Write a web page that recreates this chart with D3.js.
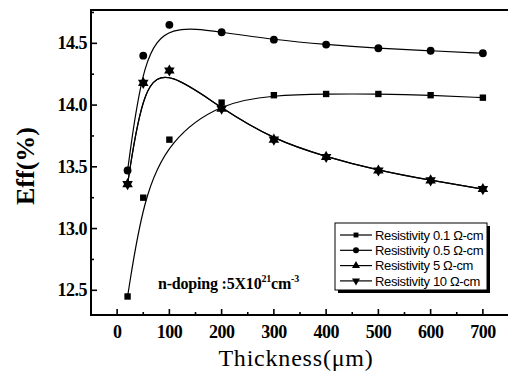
<!DOCTYPE html>
<html>
<head>
<meta charset="utf-8">
<script src="https://cdn.jsdelivr.net/npm/d3@7"></script>
<style>
    body { margin: 0; background: #fff; }
    svg { display: block; }
</style>
</head>
<body>
<div id="chart"></div>
<script>
// thickness values (um) on the x axis
var thickness = [20, 50, 100, 200, 300, 400, 500, 600, 700];

// efficiency (%), one list per resistivity
var eff01 = [12.45, 13.25, 13.72, 14.02, 14.08, 14.09, 14.09, 14.08, 14.06];
var eff05 = [13.47, 14.40, 14.65, 14.59, 14.53, 14.49, 14.46, 14.44, 14.42];
var eff5  = [13.36, 14.18, 14.28, 13.97, 13.72, 13.58, 13.47, 13.39, 13.32];
var eff10 = [13.36, 14.18, 14.28, 13.97, 13.72, 13.58, 13.47, 13.39, 13.32];

var seriesNames = ["Resistivity 0.1 \u03A9-cm", "Resistivity 0.5 \u03A9-cm", "Resistivity 5 \u03A9-cm", "Resistivity 10 \u03A9-cm"];
var seriesSymbols = ["square", "circle", "up", "down"];

var xTicks = [0, 100, 200, 300, 400, 500, 600, 700];
var yTicks = [12.5, 13.0, 13.5, 14.0, 14.5];

var width = 508, height = 374;
var margin = {top: 10, left: 91, bottom: 59};

var svg = d3.select("#chart").append("svg")
    .attr("width", width)
    .attr("height", height);

// right edge of the frame sits just off the picture (it is cropped)
var x = d3.scaleLinear().domain([-50, 750]).range([margin.left, 509]);
var y = d3.scaleLinear().domain([12.3, 14.77]).range([height - margin.bottom, margin.top]);

var serifBold = "'Liberation Serif', 'Times New Roman', serif";

// minor + major ticks, pointing inward
var xMinor = d3.range(-50, 751, 50);
svg.append("g").selectAll("line")
    .data(xMinor)
    .enter().append("line")
    .attr("x1", function(d){ return x(d); })
    .attr("x2", function(d){ return x(d); })
    .attr("y1", y(12.3))
    .attr("y2", function(d){ return y(12.3) - (d % 100 == 0 ? 6 : 3); })
    .attr("stroke", "#000")
    .attr("stroke-width", 1.6);

var yMinor = d3.range(12.5, 14.76, 0.25);
svg.append("g").selectAll("line")
    .data(yMinor)
    .enter().append("line")
    .attr("x1", x(-50))
    .attr("x2", function(d){ return x(-50) + (Math.abs(d * 2 - Math.round(d * 2)) < 0.01 ? 6 : 3); })
    .attr("y1", function(d){ return y(d); })
    .attr("y2", function(d){ return y(d); })
    .attr("stroke", "#000")
    .attr("stroke-width", 1.6);

// axis tick labels
svg.append("g").selectAll("text")
    .data(xTicks)
    .enter().append("text")
    .attr("x", function(d){ return x(d); })
    .attr("y", y(12.3) + 23)
    .attr("text-anchor", "middle")
    .style("font-family", serifBold)
    .style("font-weight", "bold")
    .style("font-size", "18px")
    .style("letter-spacing", "-0.5px")
    .text(function(d){ return d; });

svg.append("g").selectAll("text")
    .data(yTicks)
    .enter().append("text")
    .attr("x", x(-50) - 4)
    .attr("y", function(d){ return y(d) + 6; })
    .attr("text-anchor", "end")
    .style("font-family", serifBold)
    .style("font-weight", "bold")
    .style("font-size", "18px")
    .style("letter-spacing", "-0.5px")
    .text(function(d){ return d.toFixed(1); });

// frame
svg.append("rect")
    .attr("x", x(-50))
    .attr("y", y(14.77))
    .attr("width", x(750) - x(-50))
    .attr("height", y(12.3) - y(14.77))
    .attr("fill", "none")
    .attr("stroke", "#000")
    .attr("stroke-width", 2);

// smooth fitted curves + markers
var allSeries = [eff01, eff05, eff5, eff10];
var line = d3.line()
    .x(function(d){ return x(d[0]); })
    .y(function(d){ return y(d[1]); })
    .curve(d3.curveBasis);

function markerPath(kind, size){
    if(kind == "square") return d3.symbol().type(d3.symbolSquare).size(size * 0.85)();
    if(kind == "circle") return d3.symbol().type(d3.symbolCircle).size(size)();
    return d3.symbol().type(d3.symbolTriangle).size(size)();
}

allSeries.forEach(function(vals, i){
    var pts = thickness.map(function(t, j){ return [t, vals[j]]; });
    svg.append("path")
        .attr("d", line(pts))
        .attr("fill", "none")
        .attr("stroke", "#000")
        .attr("stroke-width", 1.2);

    svg.append("g").selectAll("path")
        .data(pts)
        .enter().append("path")
        .attr("d", markerPath(seriesSymbols[i], 48))
        .attr("transform", function(d){
            return "translate(" + x(d[0]) + "," + y(d[1]) + ")" + (seriesSymbols[i] == "down" ? " rotate(180)" : "");
        })
        .attr("fill", "#000");
});

// annotation
var note = svg.append("text")
    .attr("x", 158)
    .attr("y", 289)
    .style("font-family", serifBold)
    .style("font-weight", "bold")
    .style("font-size", "16px")
    .style("letter-spacing", "-0.2px");
note.append("tspan").text("n-doping :5X10");
note.append("tspan").attr("dy", -7).style("font-size", "10px").text("21");
note.append("tspan").attr("dy", 7).text("cm");
note.append("tspan").attr("dy", -7).style("font-size", "10px").text("-3");

// legend with drop shadow
var lg = {x: 335, y: 223, w: 152, h: 67};
svg.append("rect")
    .attr("x", lg.x + 3).attr("y", lg.y + 3)
    .attr("width", lg.w).attr("height", lg.h)
    .attr("fill", "#000");
svg.append("rect")
    .attr("x", lg.x).attr("y", lg.y)
    .attr("width", lg.w).attr("height", lg.h)
    .attr("fill", "#fff")
    .attr("stroke", "#000")
    .attr("stroke-width", 1);

var legend = svg.selectAll(".legend")
    .data(seriesNames)
    .enter().append("g")
    .attr("class", "legend")
    .attr("transform", function(d, i){ return "translate(" + (lg.x + 5) + "," + (lg.y + 12 + i * 15.3) + ")"; });

legend.append("line")
    .attr("x1", 0).attr("x2", 32)
    .attr("y1", 0).attr("y2", 0)
    .attr("stroke", "#000")
    .attr("stroke-width", 1.2);
legend.append("path")
    .attr("d", function(d, i){ return markerPath(seriesSymbols[i], 28); })
    .attr("transform", function(d, i){ return "translate(16,0)" + (seriesSymbols[i] == "down" ? " rotate(180)" : ""); })
    .attr("fill", "#000");
legend.append("text")
    .attr("x", 35)
    .attr("y", 4.8)
    .style("font-family", "'Liberation Sans', Arial, sans-serif")
    .style("font-size", "13px")
    .style("letter-spacing", "-0.35px")
    .text(function(d){ return d; });

// axis titles
svg.append("text")
    .attr("x", 296)
    .attr("y", 366)
    .attr("text-anchor", "middle")
    .style("font-family", serifBold)
    .style("font-size", "24px")
    .style("letter-spacing", "0.8px")
    .text("Thickness(\u03BCm)");

svg.append("text")
    .attr("transform", "translate(34,166) rotate(-90)")
    .attr("text-anchor", "middle")
    .style("font-family", serifBold)
    .style("font-weight", "bold")
    .style("font-size", "26px")
    .text("Eff(%)");
</script>
</body>
</html>
